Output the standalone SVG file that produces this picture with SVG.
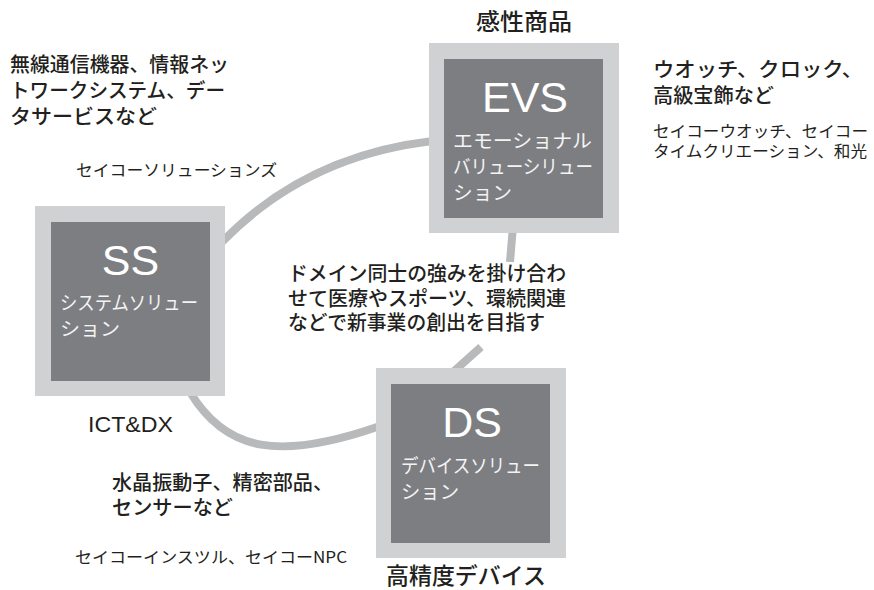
<svg xmlns="http://www.w3.org/2000/svg" width="874" height="590" viewBox="0 0 874 590">
  <style>
    .ring { fill: none; stroke: #b8b9bb; stroke-width: 8; stroke-linecap: butt; }
    .outer { fill: #d0d1d3; }
    .inner { fill: #7d7e82; }
    .title { font-family: "Liberation Sans", Arial, sans-serif; font-size: 43px; fill: #ffffff; text-anchor: middle; }
    .sub { font-family: "Noto Sans CJK JP", "Noto Sans", sans-serif; font-size: 19px; fill: #f4f4f4; }
    .lbl { font-family: "Noto Sans CJK JP", "Noto Sans", sans-serif; font-size: 20px; font-weight: 500; fill: #231f20; }
    .sm { font-family: "Noto Sans CJK JP", "Noto Sans", sans-serif; font-size: 16px; fill: #231f20; }
    .big { font-family: "Noto Sans CJK JP", "Noto Sans", sans-serif; font-size: 23px; font-weight: 500; fill: #231f20; }
    .lat { font-family: "Liberation Sans", Arial, sans-serif; font-size: 22px; fill: #231f20; }
  </style>
  <rect width="874" height="590" fill="#ffffff"/>

  <g id="connectors">
    <path id="ss-evs" class="ring" d="M222,242 C286,176 363,149 433,141"/>
    <path id="evs-ds" class="ring" d="M513,226 L510,262 M481,347 L452,373"/>
    <path id="ds-ss" class="ring" d="M380,426 C280,461 226,452 190,392"/>
  </g>

  <g id="EVS">
    <rect class="outer" x="429" y="43" width="190" height="190"/>
    <rect class="inner" x="444" y="59" width="159" height="159"/>
    <text class="title" x="525" y="112">EVS</text>
    <text class="sub" x="453" y="148" textLength="139" lengthAdjust="spacingAndGlyphs">エモーショナル</text>
    <text class="sub" x="453" y="174" textLength="140" lengthAdjust="spacingAndGlyphs">バリューシリュー</text>
    <text class="sub" x="453" y="200" textLength="59" lengthAdjust="spacingAndGlyphs">ション</text>
  </g>

  <g id="SS">
    <rect class="outer" x="35" y="206" width="190" height="190"/>
    <rect class="inner" x="51" y="222" width="159" height="159"/>
    <text class="title" x="130.5" y="275">SS</text>
    <text class="sub" x="60" y="310" textLength="138" lengthAdjust="spacingAndGlyphs">システムソリュー</text>
    <text class="sub" x="60" y="336" textLength="60" lengthAdjust="spacingAndGlyphs">ション</text>
  </g>

  <g id="DS">
    <rect class="outer" x="376" y="368" width="190" height="190"/>
    <rect class="inner" x="391" y="384" width="159" height="159"/>
    <text class="title" x="472" y="437">DS</text>
    <text class="sub" x="401" y="473" textLength="139" lengthAdjust="spacingAndGlyphs">デバイスソリュー</text>
    <text class="sub" x="401" y="499" textLength="58" lengthAdjust="spacingAndGlyphs">ション</text>
  </g>

  <g id="labels">
    <text class="big" x="476" y="30" textLength="96" lengthAdjust="spacingAndGlyphs">感性商品</text>

    <text class="lbl" x="10" y="72" textLength="219" lengthAdjust="spacingAndGlyphs">無線通信機器、情報ネッ</text>
    <text class="lbl" x="10" y="98" textLength="215" lengthAdjust="spacingAndGlyphs">トワークシステム、デー</text>
    <text class="lbl" x="10" y="124" textLength="147" lengthAdjust="spacingAndGlyphs">タサービスなど</text>
    <text class="sm" x="76" y="176" textLength="201" lengthAdjust="spacingAndGlyphs">セイコーソリューションズ</text>

    <text class="lbl" x="653" y="77" textLength="210" lengthAdjust="spacingAndGlyphs">ウオッチ、クロック、</text>
    <text class="lbl" x="653" y="103" textLength="121" lengthAdjust="spacingAndGlyphs">高級宝飾など</text>
    <text class="sm" x="653" y="137" textLength="215" lengthAdjust="spacingAndGlyphs">セイコーウオッチ、セイコー</text>
    <text class="sm" x="653" y="157" textLength="214" lengthAdjust="spacingAndGlyphs">タイムクリエーション、和光</text>

    <text class="lbl" x="288" y="281" textLength="278" lengthAdjust="spacingAndGlyphs">ドメイン同士の強みを掛け合わ</text>
    <text class="lbl" x="288" y="306" textLength="278" lengthAdjust="spacingAndGlyphs">せて医療やスポーツ、環続関連</text>
    <text class="lbl" x="288" y="330" textLength="257" lengthAdjust="spacingAndGlyphs">などで新事業の創出を目指す</text>

    <text class="lat" x="88" y="432" textLength="85" lengthAdjust="spacingAndGlyphs">ICT&amp;DX</text>

    <text class="lbl" x="112" y="490" textLength="221" lengthAdjust="spacingAndGlyphs">水晶振動子、精密部品、</text>
    <text class="lbl" x="112" y="515" textLength="121" lengthAdjust="spacingAndGlyphs">センサーなど</text>
    <text class="sm" x="75" y="563" textLength="272" lengthAdjust="spacingAndGlyphs">セイコーインスツル、セイコーNPC</text>

    <text class="big" x="386" y="584" textLength="160" lengthAdjust="spacingAndGlyphs">高精度デバイス</text>
  </g>
</svg>
